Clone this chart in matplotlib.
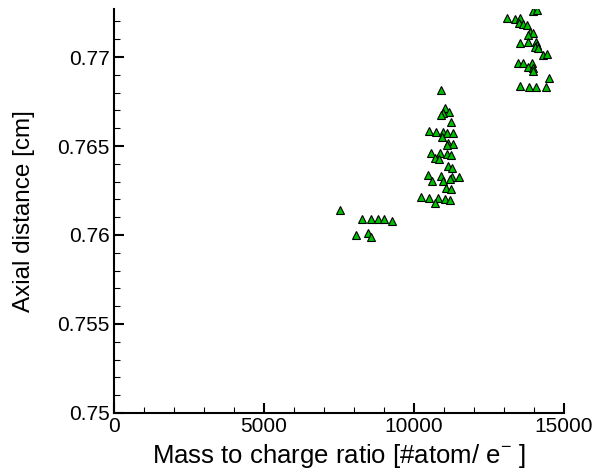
import numpy as np
import matplotlib.pyplot as plt
from matplotlib.ticker import MultipleLocator

plt.rcParams['font.family'] = ['Liberation Sans', 'DejaVu Sans']
plt.rcParams['mathtext.fontset'] = 'custom'
plt.rcParams['mathtext.rm'] = 'Liberation Sans'
plt.rcParams['mathtext.sf'] = 'Liberation Sans'

# mass to charge ratio [#atom/e-]
mz = [7533, 8277, 8557, 8790, 9010, 9257, 8067, 8477, 8557,
      10900, 11033, 11167, 10967, 10900, 11233, 10500, 10733, 10967, 11100,
      11300, 10933, 11133, 11300, 11100, 10567, 10867, 11100, 11233, 10700,
      10833, 11133, 11267, 10467, 10900, 11267, 11500, 10600, 10967, 11200,
      11067, 11233, 10233, 10500, 10800, 11033, 11200, 10700,
      13967, 14100, 13100, 13367, 13533, 13500, 13633, 13767, 13867, 13967,
      13800, 13533, 13800, 14067, 14100, 14033, 14133, 14300, 14433, 13467,
      13633, 13933, 13800, 13967, 13967, 14500, 13533, 13833, 14067, 14400]
# axial distance [cm]
z = [0.7614, 0.76088, 0.76088, 0.76088, 0.7609, 0.76079, 0.7600, 0.76013, 0.75987,
     0.76815, 0.76713, 0.76691, 0.76685, 0.76674, 0.76635, 0.76584, 0.76579, 0.76579, 0.76573,
     0.76573, 0.76551, 0.76517, 0.76511, 0.76506, 0.76461, 0.76461, 0.76455, 0.76449, 0.76433,
     0.76427, 0.76388, 0.76376, 0.76337, 0.76331, 0.76326, 0.76326, 0.76303, 0.76303, 0.76315,
     0.76264, 0.76258, 0.76213, 0.76208, 0.76208, 0.76202, 0.76197, 0.7618,
     0.77258, 0.77262, 0.77219, 0.77213, 0.77219, 0.77191, 0.77185, 0.7718, 0.7714, 0.77135,
     0.77124, 0.77079, 0.77084, 0.77084, 0.77067, 0.77056, 0.77051, 0.77011, 0.77017, 0.76966,
     0.76966, 0.76966, 0.76944, 0.76938, 0.76921, 0.76882, 0.76837, 0.76831, 0.76831, 0.76831]

fig = plt.figure(figsize=(5.94, 4.73), dpi=100)
ax = fig.add_axes([0.192, 0.127, 0.757, 0.854])
ax.plot(mz, z, linestyle='none', marker='^', ms=6.2, mfc='#00c000', mec='black', mew=0.8)

ax.set_xlim(0, 15000)
ax.set_ylim(0.75, 0.7727)
ax.xaxis.set_major_locator(MultipleLocator(5000))
ax.xaxis.set_minor_locator(MultipleLocator(1000))
ax.yaxis.set_major_locator(MultipleLocator(0.005))
ax.yaxis.set_minor_locator(MultipleLocator(0.001))
ax.yaxis.set_major_formatter(plt.FuncFormatter(lambda v, p: ('%.3f' % v).rstrip('0')))
ax.spines['top'].set_visible(False)
ax.spines['right'].set_visible(False)
for s in ['left', 'bottom']:
    ax.spines[s].set_linewidth(1.5)
ax.tick_params(which='major', direction='in', length=7.5, width=1.5, labelsize=15, pad=3)
ax.tick_params(which='minor', direction='in', length=4, width=0.8)
ax.set_xlabel(r'Mass to charge ratio [#atom/ e$^{\mathrm{-}}$ ]', fontsize=18.5, labelpad=4)
ax.set_ylabel('Axial distance [cm]', fontsize=17.5, labelpad=16)
fig.savefig('out.png', dpi=100)
